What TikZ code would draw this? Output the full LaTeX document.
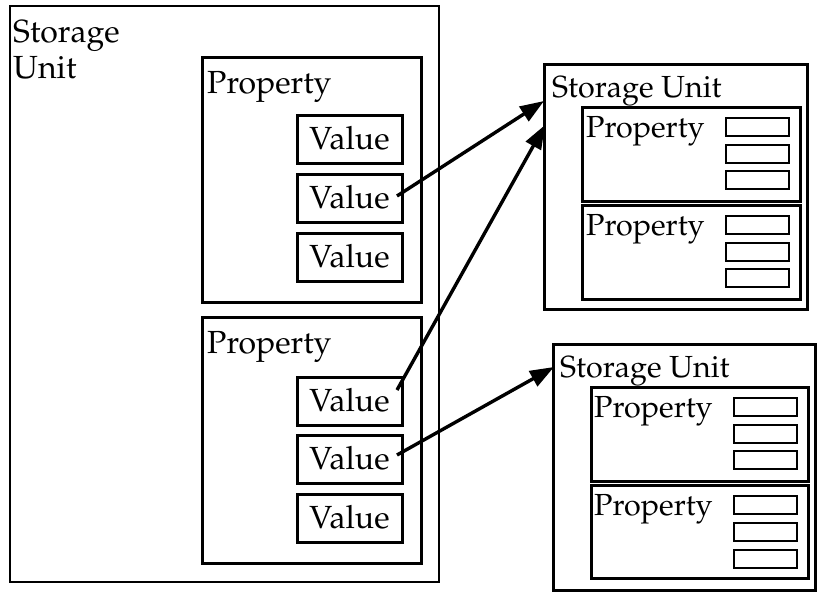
\documentclass[tikz,border=0pt]{standalone}
\IfFileExists{mathpazo.sty}{%
  \usepackage[T1]{fontenc}\usepackage{mathpazo}}{%
  \usepackage{fontspec}\setmainfont{Liberation Serif}}
\usetikzlibrary{arrows.meta}
\begin{document}
\begin{tikzpicture}[x=1pt,y=-1pt,
  frame/.style={draw, line width=3pt, rectangle, inner sep=0pt, outer sep=0pt, anchor=north west},
  valbox/.style={frame, minimum width=105pt, minimum height=48pt, text depth=2pt,
                 font=\fontsize{32}{36}\selectfont},
  slot/.style={frame, line width=2.8pt, minimum width=63pt, minimum height=18pt},
  lbl/.style={anchor=base west, inner sep=0pt, font=\fontsize{32}{36}\selectfont},
  slbl/.style={anchor=base west, inner sep=0pt, font=\fontsize{30.5}{34}\selectfont},
  link/.style={line width=3.4pt, -{Triangle[length=24pt,width=17pt]}}]
\useasboundingbox (0,0) rectangle (817,592);

% left storage unit
\node[frame, line width=2.6pt, minimum width=429pt, minimum height=576pt] (su0) at (10,6) {};
\node[lbl] (su0a) at (13,42) {Storage};
\node[lbl] (su0b) at (13,78) {Unit};

% first property with its values
\node[frame, minimum width=219pt, minimum height=245pt] (p1) at (202,57) {};
\node[lbl] (p1l) at (207,93) {Property};
\node[valbox] (va1) at (297,115) {Value};
\node[valbox] (va2) at (297,174) {Value};
\node[valbox] (va3) at (297,233) {Value};

% second property with its values
\node[frame, minimum width=219pt, minimum height=246pt] (p2) at (202,317) {};
\node[lbl] (p2l) at (207,353) {Property};
\node[valbox] (vb1) at (297,377) {Value};
\node[valbox] (vb2) at (297,435) {Value};
\node[valbox] (vb3) at (297,494) {Value};

% upper right storage unit
\node[frame, minimum width=263pt, minimum height=245pt] (su1) at (544,64) {};
\node[slbl] (su1l) at (552,97) {Storage Unit};
\node[frame, minimum width=218pt, minimum height=94pt] (q1) at (582,107) {};
\node[slbl] (q1l) at (586,137) {Property};
\node[slot] (q1s1) at (726,118) {};
\node[slot] (q1s2) at (726,145) {};
\node[slot] (q1s3) at (726,171) {};
\node[frame, minimum width=218pt, minimum height=94pt] (q2) at (582,205) {};
\node[slbl] (q2l) at (586,235) {Property};
\node[slot] (q2s1) at (726,216) {};
\node[slot] (q2s2) at (726,243) {};
\node[slot] (q2s3) at (726,269) {};

% lower right storage unit
\node[frame, minimum width=262pt, minimum height=246pt] (su2) at (553,344) {};
\node[slbl] (su2l) at (560,377) {Storage Unit};
\node[frame, minimum width=217pt, minimum height=94pt] (r1) at (591,387) {};
\node[slbl] (r1l) at (594,417) {Property};
\node[slot] (r1s1) at (734,398) {};
\node[slot] (r1s2) at (734,425) {};
\node[slot] (r1s3) at (734,451) {};
\node[frame, minimum width=217pt, minimum height=93pt] (r2) at (591,485) {};
\node[slbl] (r2l) at (594,515) {Property};
\node[slot] (r2s1) at (734,496) {};
\node[slot] (r2s2) at (734,523) {};
\node[slot] (r2s3) at (734,550) {};

% references from values to storage units
\draw[link] ([xshift=-5pt,yshift=2pt]va2.east) -- ([yshift=-37pt]su1.north west);
\draw[link] ([xshift=-5pt,yshift=11pt]vb1.east) -- ([xshift=1pt,yshift=-61pt]su1.north west);
\draw[link] ([xshift=-5pt,yshift=4pt]vb2.east) -- ([xshift=1pt,yshift=-23pt]su2.north west);
\end{tikzpicture}
\end{document}
